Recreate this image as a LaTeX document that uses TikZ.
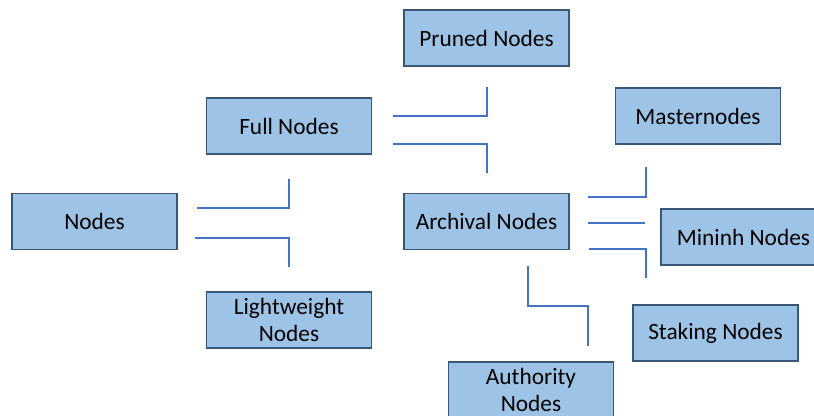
\documentclass[tikz,border=0pt]{standalone}
\usepackage{fontspec}
\setmainfont{Carlito}
\usepackage{xcolor}
\usepackage{tikz}
\usetikzlibrary{positioning}
\definecolor{boxfill}{RGB}{157,195,230}
\definecolor{boxline}{RGB}{56,87,120}
\definecolor{linkline}{RGB}{68,114,196}

\begin{document}
\begin{tikzpicture}[
		nodebox/.style={
			rectangle,
			draw=boxline,
			line width=0.6pt,
			fill=boxfill,
			minimum width=3.3cm,
			minimum height=1.12cm,
			align=center,
			font=\fontsize{13.3}{15}\selectfont},
		link/.style={draw=linkline, line width=0.6pt}
		]
		\clip (0,0) rectangle (16.28,-8.32);
		\useasboundingbox (0,0) rectangle (16.28,-8.32);
		
		% draw the boxes
		\node[nodebox] (nodes) at (1.89, -4.43) {Nodes};
		\node[nodebox] (full) at (5.78, -2.52) {Full Nodes};
		\node[nodebox] (light) at (5.78, -6.40) {Lightweight\\Nodes};
		\node[nodebox] (pruned) at (9.73, -0.76) {Pruned Nodes};
		\node[nodebox] (archival) at (9.73, -4.43) {Archival Nodes};
		\node[nodebox] (master) at (13.96, -2.32) {Masternodes};
		\node[nodebox] (mininh) at (14.87, -4.74) {Mininh Nodes};
		\node[nodebox] (staking) at (14.31, -6.66) {Staking Nodes};
		\node[nodebox] (authority) at (10.62, -7.80) {Authority\\Nodes};
		
		% elbow ends, nodes -> full / light
		\coordinate (n1) at (3.94, -4.16);
		\coordinate (f1) at (5.78, -3.58);
		\coordinate (n2) at (3.90, -4.76);
		\coordinate (l1) at (5.78, -5.34);
		% full -> pruned / archival
		\coordinate (f2) at (7.86, -2.32);
		\coordinate (p1) at (9.74, -1.74);
		\coordinate (f3) at (7.86, -2.88);
		\coordinate (a1) at (9.74, -3.46);
		% archival -> master / mininh / staking / authority
		\coordinate (a2) at (11.76, -3.94);
		\coordinate (m1) at (12.92, -3.34);
		\coordinate (a3) at (11.76, -4.46);
		\coordinate (m2) at (12.90, -4.46);
		\coordinate (a4) at (11.78, -4.98);
		\coordinate (s1) at (12.92, -5.56);
		\coordinate (a5) at (10.56, -5.32);
		\coordinate (k1) at (11.76, -6.12);
		\coordinate (k2) at (11.76, -6.92);
		
		% draw the connectors
		\draw[link] (n1) -| (f1);
		\draw[link] (n2) -| (l1);
		\draw[link] (f2) -| (p1);
		\draw[link] (f3) -| (a1);
		\draw[link] (a2) -| (m1);
		\draw[link] (a3) -- (m2);
		\draw[link] (a4) -| (s1);
		\draw[link] (a5) |- (k1) -- (k2);
	\end{tikzpicture}
\end{document}
